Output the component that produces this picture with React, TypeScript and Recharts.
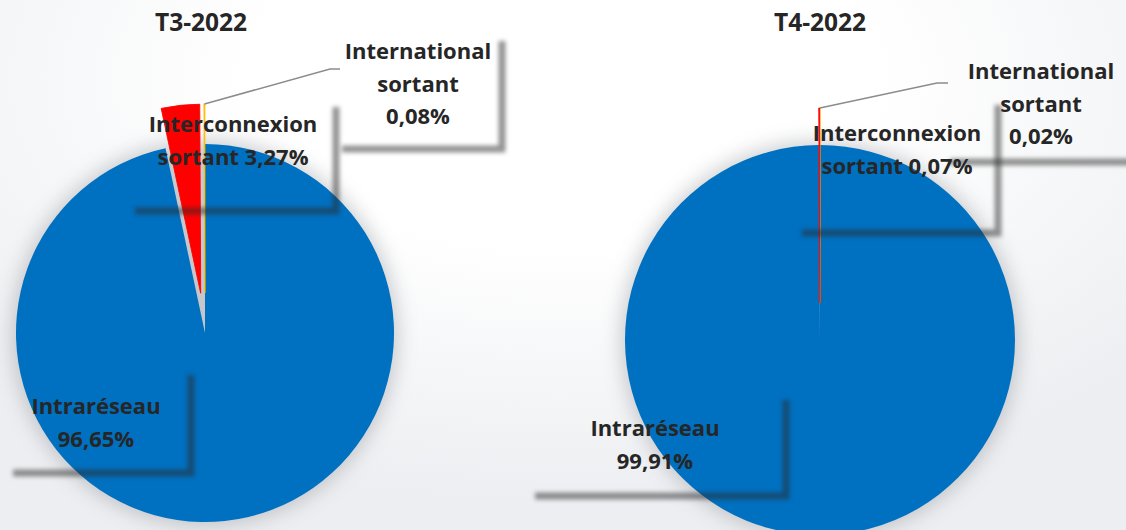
import React from 'react';
import { PieChart, Pie, Cell } from 'recharts';

// ---------- data ----------
const categories = ['Intraréseau', 'Interconnexion sortant', 'International sortant'];
const periods = ['T3-2022', 'T4-2022'];
const valuesT3 = [96.65, 3.27, 0.08];
const valuesT4 = [99.91, 0.07, 0.02];
const pctLabelsT3 = ['96,65%', '3,27%', '0,08%'];
const pctLabelsT4 = ['99,91%', '0,07%', '0,02%'];
const colors = ['#0070C0', '#FF0000', '#FFC000'];

// how each category label is broken into lines ({v} = percentage)
const labelTemplates = [
  ['Intraréseau', '{v}'],
  ['Interconnexion', 'sortant {v}'],
  ['International', 'sortant', '{v}'],
];

// ---------- layout ----------
type Box = { x: number; y: number; w: number; h: number; tx: number; ty: number; leader?: number[][] };
const layouts = [
  {
    cx: 205, cy: 333, r: 189, explode: 40, titleX: 201,
    boxes: [
      { x: 8, y: 370, w: 180, h: 100, tx: 96, ty: 405 },
      { x: 130, y: 102, w: 203, h: 106, tx: 233, ty: 123 },
      { x: 337, y: 36, w: 162, h: 110, tx: 418, ty: 50, leader: [[330, 69], [340, 69]] },
    ] as Box[],
  },
  {
    cx: 820, cy: 340, r: 195, explode: 37, titleX: 820,
    boxes: [
      { x: 530, y: 395, w: 253, h: 98, tx: 655, ty: 427 },
      { x: 797, y: 100, w: 198, h: 130, tx: 897, ty: 132 },
      { x: 945, y: 55, w: 192, h: 104, tx: 1041, ty: 70, leader: [[937, 83], [948, 83]] },
    ] as Box[],
  },
];

const W = 1126;
const H = 530;
const LINE = 32.5;
const RAD = Math.PI / 180;

const chartDefs = [
  { title: periods[0], values: valuesT3, pct: pctLabelsT3, ...layouts[0] },
  { title: periods[1], values: valuesT4, pct: pctLabelsT4, ...layouts[1] },
];

function midAngleOf(values: number[], i: number) {
  const total = values.reduce((a, b) => a + b, 0);
  const before = values.slice(0, i).reduce((a, b) => a + b, 0);
  return 90 - (360 * (before + values[i] / 2)) / total;
}

function makeLabel(chart: any, only: number) {
  return (props: any) => {
    const { index, cx, cy, midAngle, outerRadius } = props;
    if (index !== only) return <g key={`l-${index}`} />;
    const b: Box = chart.boxes[index];
    const lines = labelTemplates[index].map((t) => t.replace('{v}', chart.pct[index]));
    let leader = null;
    if (b.leader) {
      const sx = cx + outerRadius * Math.cos(-midAngle * RAD);
      const sy = cy + outerRadius * Math.sin(-midAngle * RAD);
      const pts = [[sx, sy], ...b.leader].map((p) => p.join(',')).join(' ');
      leader = <polyline points={pts} fill="none" stroke="#8c8c8c" strokeWidth={1.5} />;
    }
    return (
      <g key={`l-${index}`}>
        <path
          d={`M ${b.x + 5} ${b.y + b.h + 3} H ${b.x + b.w + 3} V ${b.y + 5}`}
          fill="none"
          stroke="#2a2a2a"
          strokeOpacity={0.5}
          strokeWidth={7}
          style={{ filter: 'blur(2.2px)' }}
        />
        {leader}
        <text
          x={b.tx}
          y={b.ty}
          textAnchor="middle"
          fill="#262626"
          fontFamily="'Open Sans', sans-serif"
          fontWeight={700}
          fontSize={22}
        >
          {lines.map((ln, k) => (
            <tspan key={k} x={b.tx} y={b.ty + k * LINE} dominantBaseline="central">
              {ln}
            </tspan>
          ))}
        </text>
      </g>
    );
  };
}

function dataOf(chart: any) {
  return categories.map((name, i) => ({ name, value: chart.values[i] }));
}

function HaloPies(chart: any, ci: number) {
  const data = dataOf(chart);
  return [
    <Pie
      key={`halo-${ci}`}
      data={data}
      dataKey="value"
      cx={chart.cx}
      cy={chart.cy}
      outerRadius={chart.r + 3}
      startAngle={90}
      endAngle={-270}
      stroke="none"
      isAnimationActive={false}
      labelLine={false}
      label={false}
    >
      {data.map((d, i) => (
        <Cell key={i} fill="#6c7078" stroke="#6c7078" strokeWidth={1} />
      ))}
    </Pie>,
  ];
}

function ChartPies(chart: any, ci: number) {
  const data = dataOf(chart);
  const pies = [];
  // base pie: main slice in place, exploded slices left as gaps
  pies.push(
    <Pie
      key={`base-${ci}`}
      data={data}
      dataKey="value"
      cx={chart.cx}
      cy={chart.cy}
      outerRadius={chart.r}
      startAngle={90}
      endAngle={-270}
      stroke="none"
      isAnimationActive={false}
      labelLine={false}
      label={makeLabel(chart, 0)}
    >
      {data.map((d, i) => (
        <Cell key={i} fill={i === 0 ? colors[0] : 'none'} stroke="none" />
      ))}
    </Pie>
  );
  // exploded small slices
  [2, 1].forEach((k) => {
    const mid = midAngleOf(chart.values, k);
    const dx = chart.explode * Math.cos(mid * RAD);
    const dy = -chart.explode * Math.sin(mid * RAD);
    pies.push(
      <Pie
        key={`ex-${ci}-${k}`}
        data={data}
        dataKey="value"
        cx={chart.cx + dx}
        cy={chart.cy + dy}
        outerRadius={chart.r}
        startAngle={90}
        endAngle={-270}
        stroke="none"
        isAnimationActive={false}
        labelLine={false}
        label={makeLabel(chart, k)}
      >
        {data.map((d, i) => (
          <Cell
            key={i}
            fill={i === k ? colors[k] : 'none'}
            stroke={i === k ? colors[k] : 'none'}
            strokeWidth={i === k ? 0.9 : 0}
          />
        ))}
      </Pie>
    );
  });
  return pies;
}

export default function App() {
  return (
    <div
      style={{
        position: 'absolute',
        left: 0,
        top: 0,
        width: W,
        height: H,
        overflow: 'hidden',
        background: 'radial-gradient(ellipse 70% 80% at 50% 15%, #ffffff 40%, #eceef1 100%)',
      }}
    >
      <div style={{ position: 'absolute', left: 0, top: 0, width: W, height: H, filter: 'blur(10px)', opacity: 0.35 }}>
        <PieChart width={W} height={H} margin={{ top: 0, right: 0, bottom: 0, left: 0 }}>
          {chartDefs.flatMap((c, i) => HaloPies(c, i))}
        </PieChart>
      </div>
      {chartDefs.map((c, i) => (
        <div
          key={`t-${i}`}
          style={{
            position: 'absolute',
            left: c.titleX - 100,
            top: 5,
            width: 200,
            textAlign: 'center',
            fontFamily: "'Open Sans', sans-serif",
            fontWeight: 700,
            fontSize: 24.5,
            lineHeight: '34px',
            color: '#262626',
          }}
        >
          {c.title}
        </div>
      ))}
      <div style={{ position: 'absolute', left: 0, top: 0 }}>
        <PieChart width={W} height={H} margin={{ top: 0, right: 0, bottom: 0, left: 0 }}>
          {chartDefs.flatMap((c, i) => ChartPies(c, i))}
        </PieChart>
      </div>
    </div>
  );
}
